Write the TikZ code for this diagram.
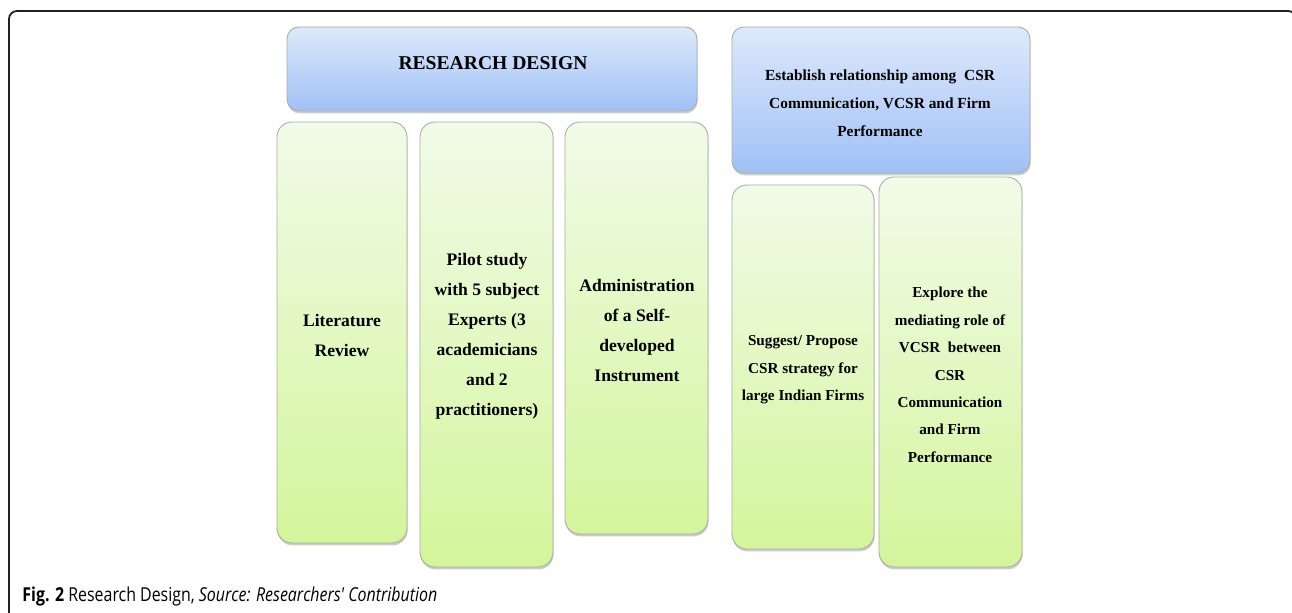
\documentclass[tikz,border=0pt]{standalone}
\usepackage{fontspec}
\setmainfont{Liberation Serif}
\newfontfamily\capfont{Open Sans}[FakeStretch=0.83]
\usetikzlibrary{shadows,calc}
\definecolor{bluetop}{HTML}{DEE9FB}
\definecolor{bluebot}{HTML}{A0C1F6}
\definecolor{greentop}{HTML}{F1FBE8}
\definecolor{greenbot}{HTML}{D4F59B}
\definecolor{boxline}{HTML}{A9AFA3}
\definecolor{frameline}{HTML}{222222}
\begin{document}
\begin{tikzpicture}[x=0.5pt,y=-0.5pt,
  boxbase/.style={draw=boxline, line width=0.45pt, inner sep=0pt,
    drop shadow={shadow xshift=0.3pt, shadow yshift=-1.2pt, opacity=0.4}},
  bluebox/.style={boxbase, rounded corners=6pt, top color=bluetop, bottom color=bluebot},
  greenbox/.style={boxbase, rounded corners=7.5pt, top color=greentop, bottom color=greenbot},
  boxtext/.style={align=center, inner sep=0pt, font=\fontsize{8.8}{15}\selectfont\bfseries},
  boxtextb/.style={align=center, inner sep=0pt, font=\fontsize{7.6}{13.7}\selectfont\bfseries},
  frame/.style={draw=frameline, line width=0.9pt, rounded corners=4pt}
]
\useasboundingbox (0,0) rectangle (1292,613);
\clip (0,0) rectangle (1292,613);
\fill[white] (0,0) rectangle (1292,613);
\draw[frame] (9,11) rectangle (1296,650);

% boxes
\node[bluebox, minimum width=205pt, minimum height=42pt] (rd) at (492,69) {};
\node[bluebox, minimum width=149pt, minimum height=73pt] (est) at (881,100) {};
\node[greenbox, minimum width=65pt, minimum height=210.5pt] (lit) at (342,332.5) {};
\node[greenbox, minimum width=66.5pt, minimum height=222.5pt] (pil) at (486.5,344.5) {};
\node[greenbox, minimum width=71.5pt, minimum height=206pt] (adm) at (636.5,328) {};
\node[greenbox, minimum width=71pt, minimum height=182pt] (sug) at (803,367) {};
\node[greenbox, minimum width=71.5pt, minimum height=195pt] (exp) at (950.5,372) {};

% texts
\node[boxtext, font=\fontsize{9.8}{12}\selectfont\bfseries] (rdt) at (493,63) {RESEARCH DESIGN};
\node[boxtextb, font=\fontsize{7.7}{14}\selectfont\bfseries] (estt) at (880,103.5) {Establish relationship among~ CSR\\Communication, VCSR and Firm\\Performance};
\node[boxtext] (litt) at (342,335) {Literature\\Review};
\node[boxtext] (pilt) at (487,336) {Pilot study\\with 5 subject\\Experts (3\\academicians\\and 2\\practitioners)};
\node[boxtext] (admt) at (637,331) {Administration\\of a Self-\\developed\\Instrument};
\node[boxtextb] (sugt) at (803,370) {Suggest/ Propose\\CSR strategy for\\large Indian Firms};
\node[boxtextb] (expt) at (950,375) {Explore the\\mediating role of\\VCSR~ between\\CSR\\Communication\\and Firm\\Performance};

% caption
\node[anchor=base west, inner sep=0pt, font=\capfont\fontsize{9.6}{12}\selectfont] (cap) at (22,602)
  {\textbf{Fig. 2} Research Design, \textit{Source: Researchers' Contribution}};
\end{tikzpicture}
\end{document}
